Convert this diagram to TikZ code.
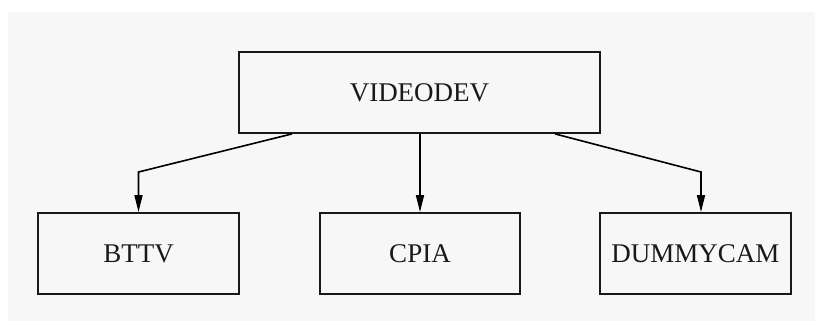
\documentclass[tikz,border=0pt]{standalone}
\usepackage{fontspec}
\setmainfont{Liberation Serif}
\usetikzlibrary{arrows.meta}
\begin{document}
\begin{tikzpicture}[x=1pt,y=1pt,
  box/.style={draw=black!90, line width=1.8pt, fill=white!97!black, inner sep=0pt,
    font=\fontsize{27}{30}\selectfont, text=black!90},
  conn/.style={draw=black, line width=1.6pt, -{Triangle[length=17pt,width=8pt]}}]
\useasboundingbox (0,0) rectangle (815,-321);
\fill[white] (0,0) rectangle (815,-321);
\fill[black!3] (8,-12) rectangle (815,-321);
\node[box, minimum width=361pt, minimum height=81pt] (top) at (419.5,-92.5) {VIDEODEV};
\node[box, minimum width=201pt, minimum height=81pt] (bttv) at (138.5,-253.5) {BTTV};
\node[box, minimum width=200pt, minimum height=81pt] (cpia) at (420,-253.5) {CPIA};
\node[box, minimum width=191pt, minimum height=81pt] (dummy) at (695.5,-253.5) {DUMMYCAM};
\coordinate (b1) at (138.5,-172);
\coordinate (b3) at (701,-172);
\draw[conn] ([xshift=-127.5pt]top.south) -- (b1) -- (bttv.north);
\draw[conn] ([xshift=0.5pt]top.south) -- ([xshift=0pt]cpia.north);
\draw[conn] ([xshift=135.5pt]top.south) -- (b3) -- (b3 |- dummy.north);
\end{tikzpicture}
\end{document}
